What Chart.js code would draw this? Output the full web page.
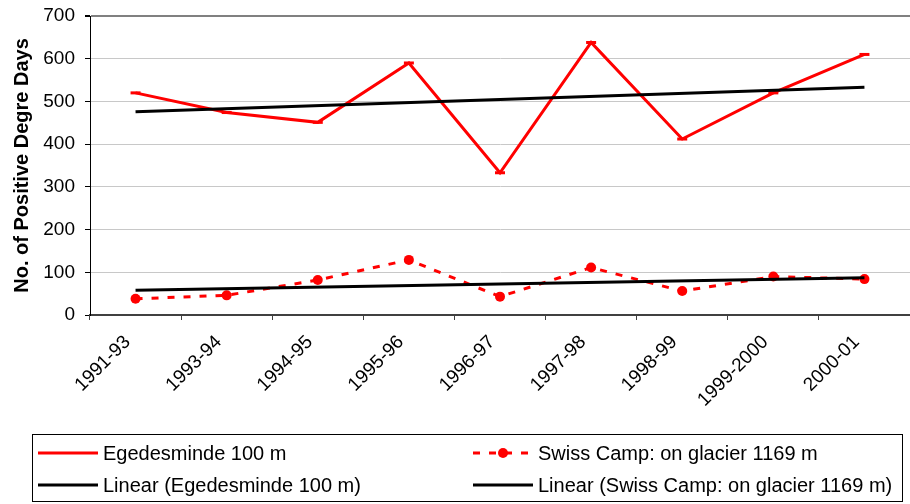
<!DOCTYPE html>
<html>
<head>
<meta charset="utf-8">
<script src="https://cdn.jsdelivr.net/npm/chart.js@4/dist/chart.umd.min.js"></script>
<style>
  html, body { margin: 0; padding: 0; background: #fff; overflow: hidden; }
  #wrap { width: 918px; height: 504px; }
</style>
</head>
<body>
<div id="wrap"><canvas id="pddChart" width="918" height="504"></canvas></div>
<script>
// valeurs
const seasons = ["1991-93", "1993-94", "1994-95", "1995-96", "1996-97", "1997-98", "1998-99", "1999-2000", "2000-01"];
const egedesminde = [520, 474, 451, 590, 333, 638, 412, 520, 610];
const swissCamp = [38, 46, 82, 129, 43, 111, 56, 90, 84];
// droites de tendance : seulement les deux bouts
const trendEgedesminde = [476, null, null, null, null, null, null, null, 533];
const trendSwissCamp = [58, null, null, null, null, null, null, null, 87];
const yTicks = [0, 100, 200, 300, 400, 500, 600, 700];

const FONT = '"Liberation Sans", Arial, sans-serif';
Chart.defaults.font.family = FONT;
Chart.defaults.color = "#000";

/**
 * legende encadree sur deux colonnes, comme dans Excel
 */
const boxLegend = {
	id: "boxLegend",
	afterDraw(chart) {
		const ctx = chart.ctx;
		const slots = [
			{ x: 38, y: 453 },
			{ x: 473, y: 453 },
			{ x: 38, y: 485 },
			{ x: 473, y: 485 },
		];
		ctx.save();
		ctx.strokeStyle = "#000";
		ctx.lineWidth = 1;
		ctx.strokeRect(32.5, 434.5, 870, 67);

		ctx.font = "20px " + FONT;
		ctx.textBaseline = "middle";
		ctx.textAlign = "left";

		chart.data.datasets.forEach((ds) => {
			const s = slots[ds.legendSlot];
			ctx.strokeStyle = ds.borderColor;
			ctx.lineWidth = ds.borderWidth;
			ctx.setLineDash(ds.borderDash || []);
			ctx.beginPath();
			ctx.moveTo(s.x, s.y);
			ctx.lineTo(s.x + 60, s.y);
			ctx.stroke();
			ctx.setLineDash([]);
			if (ds.pointStyle === "circle") {
				ctx.fillStyle = ds.borderColor;
				ctx.beginPath();
				ctx.arc(s.x + 30, s.y, 5, 0, Math.PI * 2);
				ctx.fill();
			}
			ctx.fillStyle = "#000";
			ctx.fillText(ds.label, s.x + 65, s.y + 1);
		});
		ctx.restore();
	},
};

new Chart(document.getElementById("pddChart").getContext("2d"), {
	type: "line",
	data: {
		labels: seasons,
		datasets: [
			{
				label: "Egedesminde 100 m",
				data: egedesminde,
				borderColor: "#ff0000",
				backgroundColor: "#ff0000",
				borderWidth: 3,
				pointStyle: "line",
				pointRadius: 5,
				pointBorderWidth: 3,
				pointBorderColor: "#ff0000",
				tension: 0,
				order: 2,
				legendSlot: 0,
			},
			{
				label: "Swiss Camp: on glacier 1169 m",
				data: swissCamp,
				borderColor: "#ff0000",
				backgroundColor: "#ff0000",
				borderWidth: 3,
				borderDash: [7, 9],
				pointStyle: "circle",
				pointRadius: 5,
				pointBorderWidth: 0,
				tension: 0,
				order: 2,
				legendSlot: 1,
			},
			{
				label: "Linear (Egedesminde 100 m)",
				data: trendEgedesminde,
				borderColor: "#000",
				borderWidth: 3,
				pointRadius: 0,
				spanGaps: true,
				order: 1,
				legendSlot: 2,
			},
			{
				label: "Linear (Swiss Camp: on glacier 1169 m)",
				data: trendSwissCamp,
				borderColor: "#000",
				borderWidth: 3,
				pointRadius: 0,
				spanGaps: true,
				order: 1,
				legendSlot: 3,
			},
		],
	},
	options: {
		responsive: false,
		animation: false,
		layout: { padding: { top: 16, right: 1, bottom: 70, left: 0 } },
		plugins: {
			legend: { display: false },
			tooltip: { enabled: false },
		},
		scales: {
			x: {
				offset: true,
				grid: {
					offset: true,
					drawOnChartArea: false,
					drawTicks: true,
					tickLength: 5,
					tickColor: "#404040",
				},
				border: { color: "#404040", width: 2 },
				ticks: {
					font: { size: 19 },
					minRotation: 45,
					maxRotation: 45,
					autoSkip: false,
					padding: 11,
					labelOffset: -8,
				},
				afterFit: (scale) => {
					scale.height = 119;
					scale.paddingLeft = 0;
					scale.paddingRight = 0;
				},
			},
			y: {
				min: 0,
				max: 700,
				afterBuildTicks: (scale) => {
					scale.ticks = yTicks.map((v) => ({ value: v }));
				},
				grid: {
					color: (c) => (c.tick && c.tick.value === 700 ? "#808080" : "#c8c8c8"),
					lineWidth: (c) => (c.tick && c.tick.value === 700 ? 2 : 1),
					tickLength: 5,
					tickColor: "#000",
				},
				border: { color: "#000", width: 1 },
				ticks: {
					font: { size: 19 },
					padding: 10,
				},
				title: {
					display: true,
					text: "No. of Positive Degre Days",
					font: { size: 20, weight: "bold" },
					padding: { top: 10, bottom: 0 },
				},
				afterFit: (scale) => {
					scale.width = 90;
					scale.paddingTop = 0;
					scale.paddingBottom = 0;
				},
			},
		},
	},
	plugins: [boxLegend],
});
</script>
</body>
</html>
